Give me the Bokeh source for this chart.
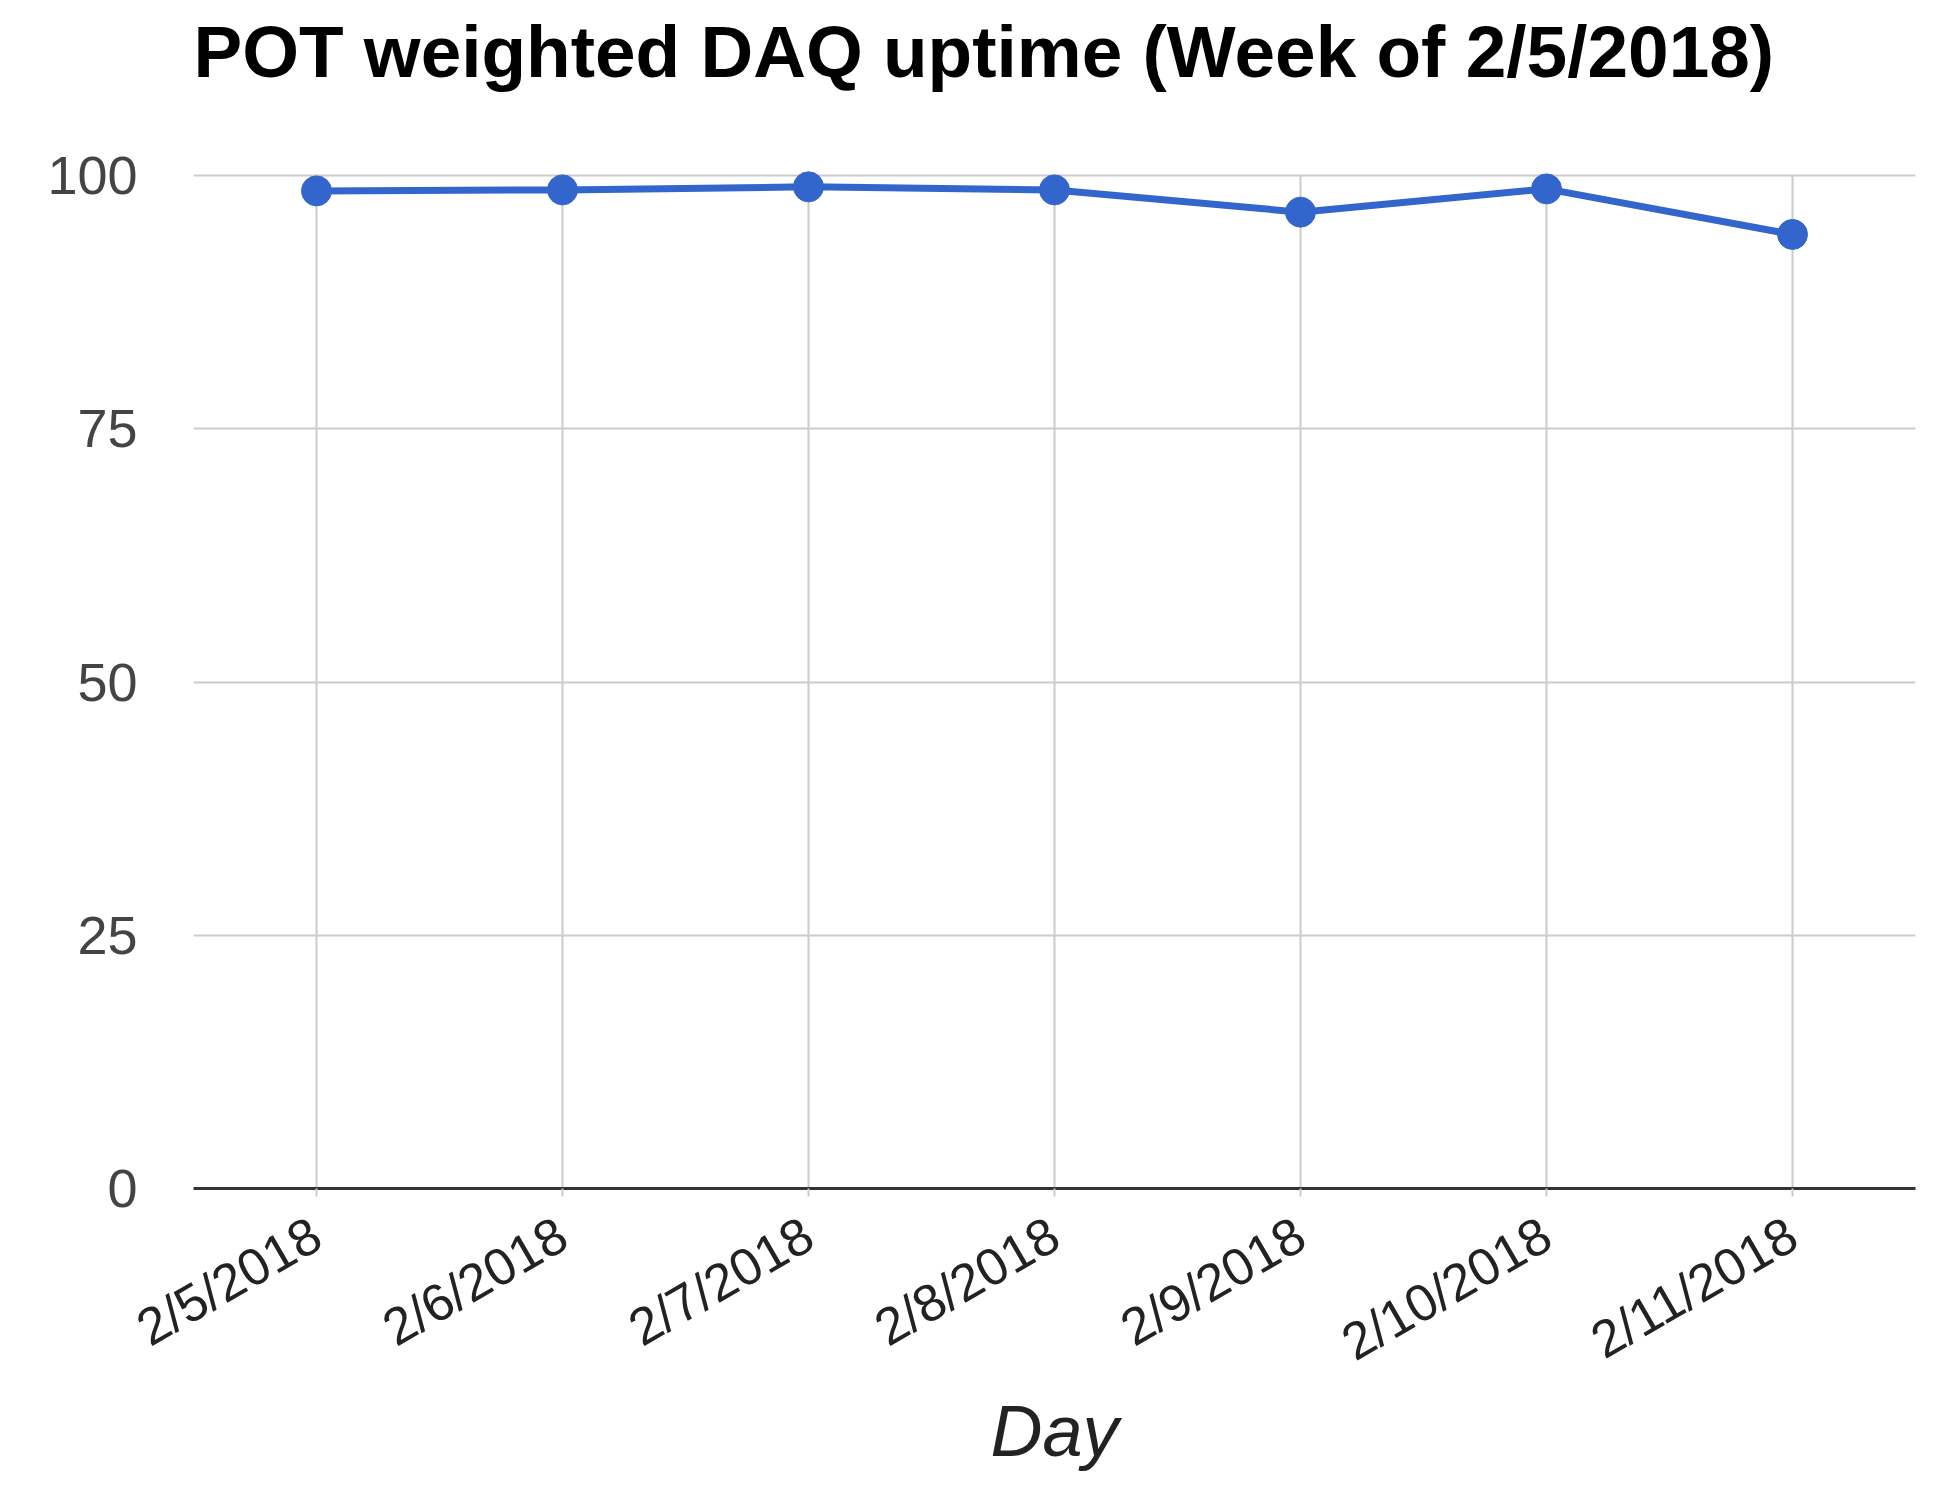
import math
from bokeh.plotting import figure
from bokeh.models import FixedTicker, Range1d, Label
from bokeh.embed import file_html
from bokeh.resources import INLINE

# ---- data ----
days = ["2/5/2018", "2/6/2018", "2/7/2018", "2/8/2018", "2/9/2018", "2/10/2018", "2/11/2018"]
uptime = [98.5, 98.6, 98.9, 98.6, 96.4, 98.7, 94.2]
y_ticks = [0, 25, 50, 75, 100]
title_text = "POT weighted DAQ uptime (Week of 2/5/2018)"
x_label = "Day"

FONT = "Liberation Sans"
Y_TOP = 117.3  # extra headroom inside the frame to hold the title

p = figure(
    x_range=days,
    y_range=Range1d(0, Y_TOP),
    width=1917,
    height=1474,
    output_backend="svg",
    toolbar_location=None,
    min_border_left=193,
    min_border_right=2,
    min_border_top=0,
    min_border_bottom=283,
)
p.outline_line_color = None
p.background_fill_color = "white"
p.border_fill_color = "white"

# title (as a label in the headroom, left-aligned with the plot area)
title_label = Label(
    x=0, y=y_ticks[-1], x_units="data", y_units="data",
    x_offset=0, y_offset=124,
    text=title_text,
    text_font=FONT, text_font_size="73px", text_font_style="bold",
    text_color="#000000", text_align="left", text_baseline="alphabetic",
)
p.add_layout(title_label)

# grids
p.xgrid.grid_line_color = None
p.ygrid.grid_line_color = "#cccccc"
p.ygrid.grid_line_width = 2
p.ygrid.ticker = FixedTicker(ticks=y_ticks)
# vertical grid lines from 0 to the top tick only
p.segment(x0=days, y0=[y_ticks[0]] * len(days), x1=days, y1=[y_ticks[-1]] * len(days),
          line_color="#cccccc", line_width=2)

# y axis
p.yaxis.ticker = FixedTicker(ticks=y_ticks)
p.yaxis.axis_line_color = None
p.yaxis.major_tick_line_color = None
p.yaxis.minor_tick_line_color = None
p.yaxis.major_tick_out = 0
p.yaxis.major_tick_in = 0
p.yaxis.major_label_standoff = 56
p.yaxis.major_label_text_font = FONT
p.yaxis.major_label_text_font_size = "54px"
p.yaxis.major_label_text_color = "#444444"

# x axis
p.xaxis.axis_line_color = "#333333"
p.xaxis.axis_line_width = 3
p.xaxis.major_tick_line_color = "#cccccc"
p.xaxis.major_tick_line_width = 2
p.xaxis.major_tick_out = 8
p.xaxis.major_tick_in = 0
p.xaxis.major_label_orientation = math.pi / 6
p.xaxis.major_label_standoff = 34
p.xaxis.major_label_text_font = FONT
p.xaxis.major_label_text_font_size = "52px"
p.xaxis.major_label_text_color = "#222222"
p.xaxis.axis_label = x_label
p.xaxis.axis_label_text_font = FONT
p.xaxis.axis_label_text_font_size = "72px"
p.xaxis.axis_label_text_font_style = "italic"
p.xaxis.axis_label_text_color = "#222222"
p.xaxis.axis_label_standoff = -8

# data
p.line(days, uptime, line_color="#3366cc", line_width=7)
p.scatter(days, uptime, size=30, fill_color="#3366cc", line_color="#3366cc")

open("out.html", "w").write(file_html(p, INLINE))
